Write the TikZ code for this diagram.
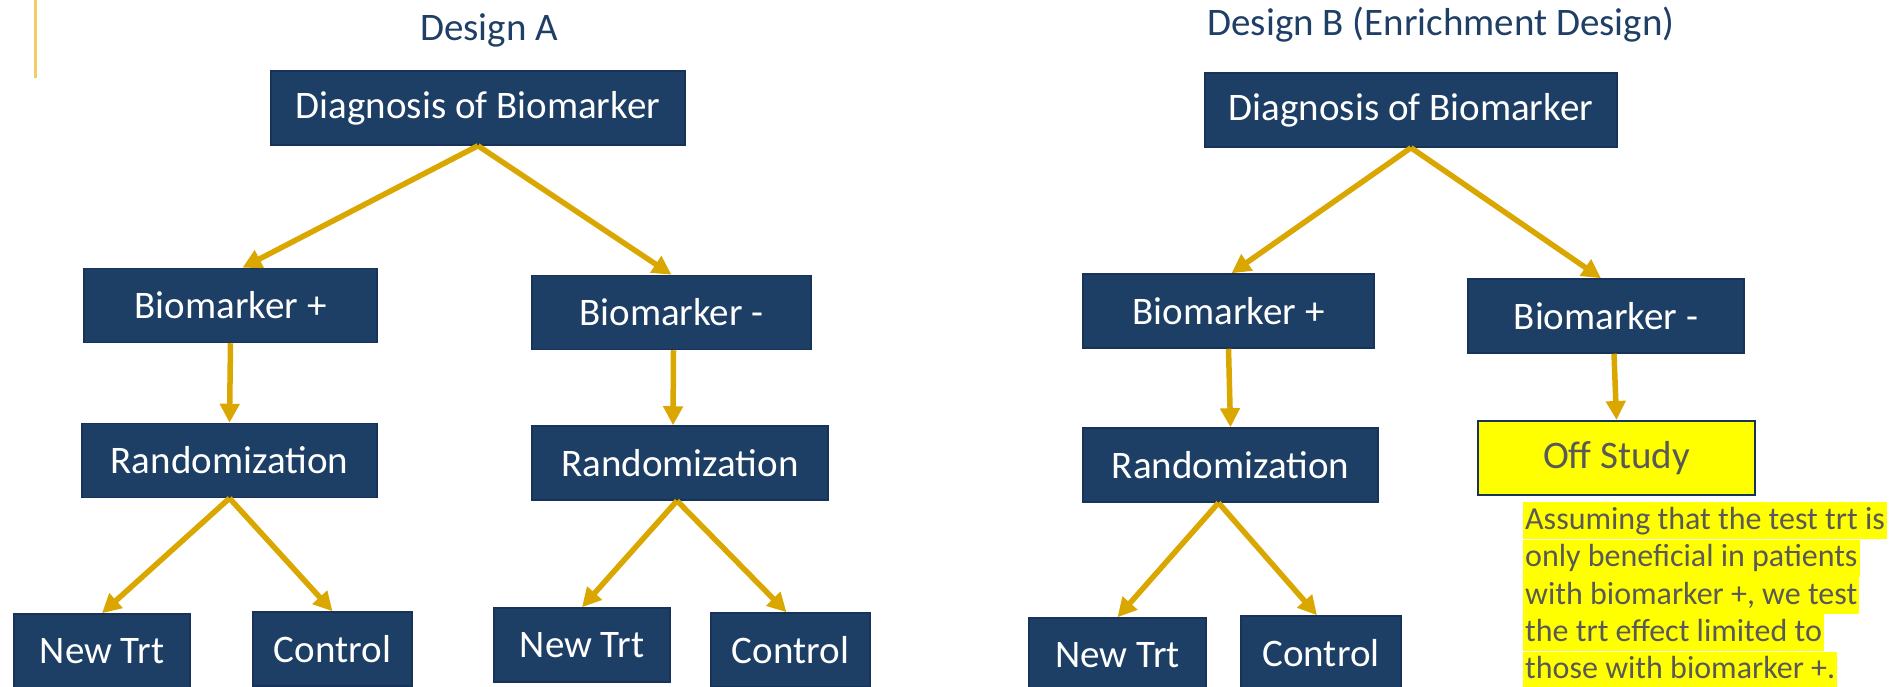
\documentclass[tikz,border=0pt]{standalone}
\usepackage{fontspec}
\setmainfont{Carlito}
\usetikzlibrary{arrows.meta, positioning}
\definecolor{navyfill}{HTML}{1D3F66}
\definecolor{navyline}{HTML}{17335A}
\definecolor{arrowgold}{HTML}{DAA600}
\definecolor{linegold}{HTML}{F2CD6A}
\definecolor{titleblue}{HTML}{1F3F66}
\definecolor{notegray}{HTML}{595959}
\definecolor{hlyellow}{HTML}{FFFF00}

\begin{document}
\begin{tikzpicture}[x=1pt, y=-1pt,
    navybox/.style={draw=navyline, line width=1.5pt, fill=navyfill, text=white,
        font=\fontsize{39}{47}\selectfont, minimum height=74pt, inner sep=0pt},
    offbox/.style={navybox, fill=hlyellow, text=notegray, line width=2pt},
    flow/.style={-{Triangle[length=19pt, width=19pt]}, line width=5.5pt, arrowgold},
    title/.style={font=\fontsize{39}{47}\selectfont, text=titleblue, anchor=base},
    hlline/.style={fill=hlyellow, text=notegray, font=\fontsize{32}{37}\selectfont,
        inner xsep=2pt, inner ysep=0pt, text height=27pt, text depth=10pt, anchor=north west}]
    \useasboundingbox (0,0) rectangle (1889,687);
    \clip (0,0) rectangle (1889,687);
    % Slide rule at the left
    \draw[linegold, line width=3pt] (35,0) -- (35,78);
    % === Design A ===
    \node[title] (titleA) at (489,41) {Design A};
    \node[navybox, minimum width=414pt] (diagA) at (478,108) {Diagnosis of Biomarker};
    \node[navybox, minimum width=293pt] (posA) at (230.5,305.5) {Biomarker +};
    \node[navybox, minimum width=279pt] (negA) at (671.5,312.5) {Biomarker -};
    \node[navybox, minimum width=295pt] (randA) at (229.5,460.5) {Randomization};
    \node[navybox, minimum width=296pt] (randAn) at (680,463) {Randomization};
    \node[navybox, minimum width=176pt] (newA) at (102,651) {New Trt};
    \node[navybox, minimum width=159pt] (ctlA) at (332.5,649) {Control};
    \node[navybox, minimum width=176pt] (newAn) at (582,645) {New Trt};
    \node[navybox, minimum width=159pt] (ctlAn) at (790.5,650) {Control};
    \draw[flow] (diagA.south) -- ([xshift=12pt]posA.north);
    \draw[flow] (diagA.south) -- (negA.north);
    \draw[flow] (posA.south) -- (randA.north);
    \draw[flow] ([xshift=2pt]negA.south) -- ([xshift=-7pt]randAn.north);
    \draw[flow] (randA.south) -- (newA.north);
    \draw[flow] (randA.south) -- (ctlA.north);
    \draw[flow] ([xshift=-3pt]randAn.south) -- (newAn.north);
    \draw[flow] ([xshift=-3pt]randAn.south) -- ([xshift=-4pt]ctlAn.north);
    % === Design B ===
    \node[title] (titleB) at (1441,36) {Design B (Enrichment Design)};
    \node[navybox, minimum width=412pt] (diagB) at (1411,110) {Diagnosis of Biomarker};
    \node[navybox, minimum width=291pt] (posB) at (1228.5,311) {Biomarker +};
    \node[navybox, minimum width=276pt] (negB) at (1606,316) {Biomarker -};
    \node[navybox, minimum width=295pt] (randB) at (1230.5,465) {Randomization};
    \node[offbox, minimum width=277pt] (offB) at (1616.5,458) {Off Study};
    \node[navybox, minimum width=177pt] (newB) at (1117.5,655) {New Trt};
    \node[navybox, minimum width=160pt] (ctlB) at (1321,653) {Control};
    \draw[flow] (diagB.south) -- ([xshift=3pt]posB.north);
    \draw[flow] (diagB.south) -- ([xshift=-5pt]negB.north);
    \draw[flow] (posB.south) -- (randB.north);
    \draw[flow] ([xshift=8pt]negB.south) -- (offB.north);
    \draw[flow] ([xshift=-12pt]randB.south) -- (newB.north);
    \draw[flow] ([xshift=-12pt]randB.south) -- ([xshift=-4pt]ctlB.north);
    % Highlighted note under Off Study
    \node[hlline] (note1) at (1523,502) {Assuming that the test trt is};
    \node[hlline, below=0pt of note1.south west, anchor=north west] (note2) {only beneficial in patients};
    \node[hlline, below=0pt of note2.south west, anchor=north west] (note3) {with biomarker +, we test};
    \node[hlline, below=0pt of note3.south west, anchor=north west] (note4) {the trt effect limited to};
    \node[hlline, below=0pt of note4.south west, anchor=north west] (note5) {those with biomarker +.};
\end{tikzpicture}
\end{document}
